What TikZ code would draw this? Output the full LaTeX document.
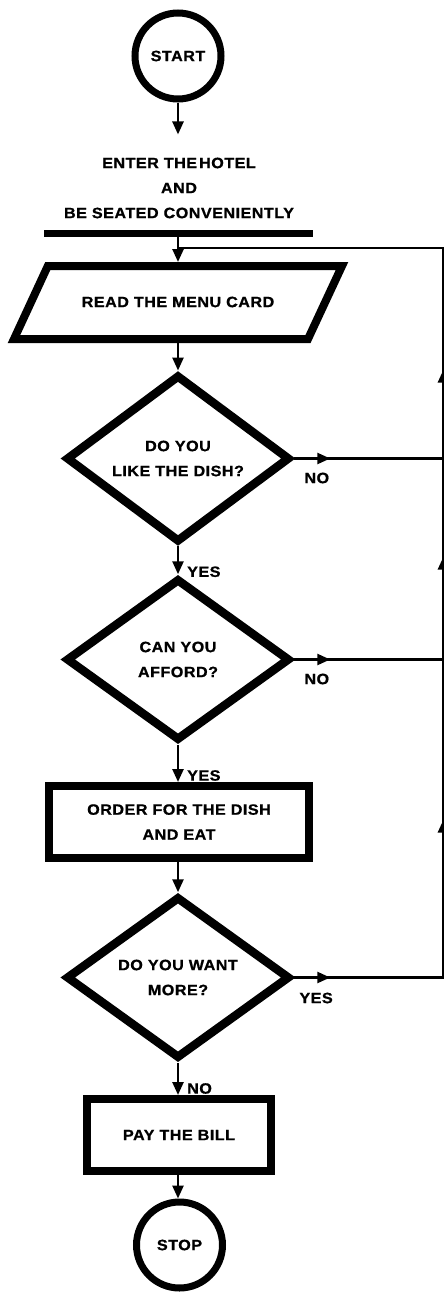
\documentclass[tikz,border=0pt]{standalone}
\usepackage{fontspec}
\newfontfamily\lab[FakeStretch=1.08,LetterSpace=3,FakeBold=0.8]{Liberation Sans Bold}
\usetikzlibrary{shapes.geometric,arrows.meta,decorations.markings}

\begin{document}
\begin{tikzpicture}[x=1pt,y=-1pt,
  every node/.style={font=\lab\fontsize{15}{25}\selectfont},
  terminal/.style={circle,draw,line width=7pt,minimum size=86pt,inner sep=0pt},
  process/.style={rectangle,draw,line width=8pt,align=center,inner sep=0pt},
  decision/.style={diamond,draw,line width=8.5pt,align=center,inner sep=0pt,
                   minimum width=224pt,minimum height=162pt},
  flow/.style={line width=2.5pt,-{Triangle[length=13pt,width=11pt]}},
  link/.style={line width=2.5pt},
  lbl/.style={inner sep=0pt},
  midarrow/.style={postaction={decorate,decoration={markings,
      mark=at position #1 with {\arrow{Triangle[length=13pt,width=11pt]}}}}},
]
\fill[white] (0,0) rectangle (444,1298);
\useasboundingbox (0,0) rectangle (444,1298);

% terminals, steps and decisions down the main axis
\node[terminal] (start) at (178,56) {START};
\node[align=center,inner sep=0pt] (enter) at (179,188)
  {ENTER THE\hspace{2pt}HOTEL\\AND\\BE SEATED CONVENIENTLY};
\node[fill=black,inner sep=0pt,minimum width=269pt,minimum height=7pt] (bar) at (178,233) {};

% input/output parallelogram
\node[inner sep=0pt] (read) at (178,302) {READ THE MENU CARD};
\coordinate (readtop) at (178,262);
\coordinate (readbot) at (178,343);
\draw[line width=8pt,line join=miter]
  (47.8,266) -- (342,266) -- (308,339) -- (14,339) -- cycle;

\node[decision] (d1) at (178,458.5) {DO YOU\\LIKE THE DISH?};
\node[decision] (d2) at (178,659.5) {CAN YOU\\AFFORD?};
\node[process,minimum width=260pt,minimum height=72pt] (order) at (179,822)
  {ORDER FOR THE DISH\\AND EAT};
\node[decision] (d3) at (178,977.5) {DO YOU WANT\\MORE?};
\node[process,minimum width=184pt,minimum height=72pt] (pay) at (179,1135) {PAY THE BILL};
\node[terminal] (stop) at (179.5,1245) {STOP};

% return rail on the right
\coordinate (railtop) at (443.5,248);

% main flow
\draw[flow,shorten >=23pt] (start.south) -- (start.south |- enter.north);
\draw[flow] (bar.south) -- (readtop);
\draw[flow] (readbot) -- (d1.north);
\draw[flow] (d1.south) -- (d2.north);
\draw[flow] (d2.south) -- (d2.south |- order.north);
\draw[flow] (d2.south |- order.south) -- (d3.north);
\draw[flow] (d3.south) -- (d3.south |- pay.north);
\draw[flow] (d3.south |- pay.south) -- (d3.south |- stop.north);

% branches back to the menu
\draw[link,midarrow=36pt] (d1.east) -- (d1.east -| railtop);
\draw[link,midarrow=36pt] (d2.east) -- (d2.east -| railtop);
\draw[link,midarrow=36pt] (d3.east) -- (d3.east -| railtop);
\draw[link,midarrow=89pt]  (d1.east -| railtop) -- (railtop);
\draw[link,midarrow=103pt] (d2.east -| railtop) -- (d1.east -| railtop);
\draw[link,midarrow=158pt] (d3.east -| railtop) -- (d2.east -| railtop);
\draw[link] (railtop) -- (bar.south |- railtop);

% branch labels
\path (d2.north) ++(9,3) node[lbl,anchor=south west] (yes1) {YES};
\path (order.north -| d2.south) ++(9,-1) node[lbl,anchor=south west] (yes2) {YES};
\path (pay.north -| d3.south) ++(9,-1) node[lbl,anchor=south west] (no3) {NO};
\path (d1.east) ++(10,14) node[lbl,anchor=north west] (no1) {NO};
\path (d2.east) ++(10,14) node[lbl,anchor=north west] (no2) {NO};
\path (d3.east) ++(5,15) node[lbl,anchor=north west] (yes3) {YES};
\end{tikzpicture}
\end{document}
